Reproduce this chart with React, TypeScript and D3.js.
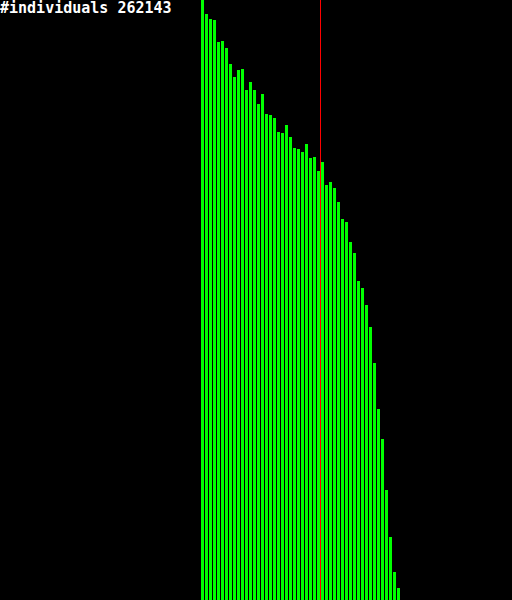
import React from "react";
import * as d3 from "d3";

const title = "#individuals 262143";
// bar heights (pixels of a 600-unit axis)
const binValues = [
  600, 586, 581, 580, 558, 559, 552, 536, 523, 530,
  531, 510, 518, 510, 496, 506, 486, 485, 482, 468,
  467, 475, 463, 452, 451, 448, 456, 442, 443, 429,
  438, 415, 418, 412, 398, 381, 378, 358, 347, 319,
  312, 295, 273, 237, 191, 161, 110, 63, 28, 12,
];
const markerValue = 29.75;
const yMax = 600;

export default function App() {
  const W = 512;
  const H = 600;
  const x = d3.scaleLinear().domain([0, binValues.length]).range([201, 401]);
  const y = d3.scaleLinear().domain([0, yMax]).range([H, 0]);
  return (
    <div style={{ position: "fixed", left: 0, top: 0, width: W, height: H, background: "#000" }}>
      <svg width={W} height={H} style={{ display: "block" }} shapeRendering="crispEdges">
        <rect x={0} y={0} width={W} height={H} fill="#000" />
        {binValues.map((v, i) => (
          <rect key={i} x={x(i)} y={y(v)} width={3} height={H - y(v)} fill="#00ff00" />
        ))}
        <rect x={x(markerValue)} y={0} width={1} height={H} fill="#ff0000" />
        <text
          x={0}
          y={12.5}
          fill="#fff"
          fontFamily="'DejaVu Sans Mono', monospace"
          fontWeight="bold"
          fontSize={15}
        >
          {title}
        </text>
      </svg>
    </div>
  );
}
